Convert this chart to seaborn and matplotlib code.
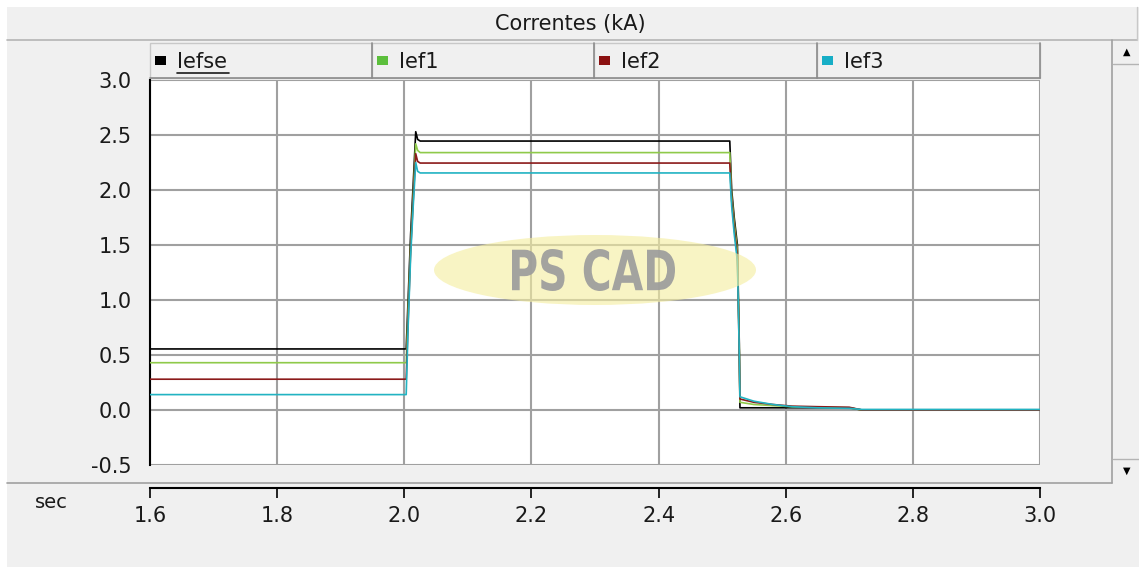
import matplotlib
matplotlib.use("Agg")
import matplotlib.pyplot as plt
import seaborn as sns
import pandas as pd
from matplotlib.patches import Ellipse, Rectangle, PathPatch
from matplotlib.lines import Line2D
from matplotlib.textpath import TextPath
from matplotlib.font_manager import FontProperties
from matplotlib.transforms import Affine2D

# ---------------- data ----------------
time_s = [1.600, 2.003, 2.006, 2.010, 2.014, 2.018, 2.021, 2.025, 2.512, 2.515,
          2.519, 2.524, 2.527, 2.528, 2.550, 2.580, 2.610, 2.650, 2.700, 2.720, 3.000]
iefse = [0.555, 0.555, 1.00, 1.60, 2.05, 2.53, 2.46, 2.445, 2.445, 2.00,
         1.75, 1.50, 0.60, 0.02, 0.02, 0.02, 0.02, 0.02, 0.02, 0.00, 0.00]
ief1 = [0.43, 0.43, 0.90, 1.50, 1.95, 2.42, 2.36, 2.34, 2.34, 1.95,
        1.70, 1.45, 0.55, 0.07, 0.05, 0.04, 0.03, 0.025, 0.02, 0.00, 0.00]
ief2 = [0.28, 0.28, 0.80, 1.45, 1.90, 2.33, 2.26, 2.245, 2.245, 1.90,
        1.65, 1.40, 0.50, 0.10, 0.07, 0.05, 0.035, 0.03, 0.025, 0.00, 0.00]
ief3 = [0.14, 0.14, 0.75, 1.40, 1.85, 2.25, 2.17, 2.155, 2.155, 1.85,
        1.60, 1.35, 0.50, 0.12, 0.08, 0.05, 0.03, 0.02, 0.015, 0.005, 0.005]

series_names = ["Iefse", "Ief1", "Ief2", "Ief3"]
series_values = [iefse, ief1, ief2, ief3]
line_colors = ["#000000", "#8fca4a", "#8b1a1a", "#22b3c2"]
legend_colors = ["#000000", "#5cbf3c", "#8b1111", "#17aec6"]
y_ticks = [-0.5, 0.0, 0.5, 1.0, 1.5, 2.0, 2.5, 3.0]
y_labels = ["-0.5", "0.0", "0.5", "1.0", "1.5", "2.0", "2.5", "3.0"]
x_ticks = [1.6, 1.8, 2.0, 2.2, 2.4, 2.6, 2.8, 3.0]
x_labels = ["1.6", "1.8", "2.0", "2.2", "2.4", "2.6", "2.8", "3.0"]
title_text = "Correntes (kA)"
x_unit = "sec"
watermark = "PS CAD"

# ---------------- layout ----------------
sns.set_theme(style="white")
plt.rcParams['font.family'] = ['DejaVu Sans']
FS = 15
W, H = 1139, 570
BG = "#f0f0f0"
fig = plt.figure(figsize=(W / 100, H / 100), dpi=100, facecolor=BG)


def box(px0, py0, px1, py1):
    return [px0 / W, 1 - py1 / H, (px1 - px0) / W, (py1 - py0) / H]


# background drawing layer in pixel coordinates
bg = fig.add_axes([0, 0, 1, 1], zorder=-5)
bg.set_xlim(0, W)
bg.set_ylim(H, 0)
bg.axis('off')
bg.add_patch(Rectangle((0, 0), W, 7, color="white", lw=0))
bg.add_patch(Rectangle((0, 0), 7, H, color="white", lw=0))
bg.add_patch(Rectangle((0, 567), W, 3, color="white", lw=0))
bg.add_line(Line2D([7, 1137], [40, 40], color="#b4b4b4", lw=1.2))
bg.add_line(Line2D([1137, 1137], [7, 40], color="#c8c8c8", lw=1.0))
bg.add_line(Line2D([7, 1112], [483, 483], color="#a0a0a0", lw=1.2))
bg.add_line(Line2D([1112, 1112], [40, 483], color="#a0a0a0", lw=1.2))
bg.add_line(Line2D([1113, 1139], [64, 64], color="#b4b4b4", lw=1.0))
bg.add_line(Line2D([1113, 1139], [459, 459], color="#b4b4b4", lw=1.0))
bg.text(1127, 52, "\u25B2", ha="center", va="center", fontsize=7, color="black")
bg.text(1127, 471, "\u25BC", ha="center", va="center", fontsize=7, color="black")
bg.text(570, 24, title_text, ha="center", va="center", fontsize=FS, color="#1a1a1a")
edges = [150, 372, 594, 817, 1040]
for i, name in enumerate(series_names):
    x0, x1 = edges[i], edges[i + 1]
    bg.add_patch(Rectangle((x0, 43), x1 - x0, 35, facecolor=BG,
                           edgecolor="#c8c8c8", lw=1.0))
    bg.add_line(Line2D([x0, x1], [78, 78], color="#8c8c8c", lw=1.2))
    bg.add_line(Line2D([x1, x1], [43, 78], color="#8c8c8c", lw=1.2))
    bg.add_patch(Rectangle((x0 + 5, 56), 11, 9, color=legend_colors[i], lw=0))
    bg.text(x0 + 27, 62, name, ha="left", va="center", fontsize=FS,
            color="#1a1a1a")
    if i == 0:
        bg.add_line(Line2D([x0 + 27, x0 + 79], [73, 73], color="#1a1a1a", lw=1.2))
bg.text(51, 503, x_unit, ha="center", va="center", fontsize=FS - 1, color="#1a1a1a")

# ---------------- main plot ----------------
ax = fig.add_axes(box(150, 80, 1040, 465))
ax.set_facecolor("white")

frames = []
for name, vals in zip(series_names, series_values):
    frames.append(pd.DataFrame({"t": time_s, "v": vals, "s": name}))
df = pd.concat(frames, ignore_index=True)

sns.lineplot(data=df, x="t", y="v", hue="s", hue_order=series_names,
             palette=dict(zip(series_names, line_colors)), estimator=None,
             sort=False, lw=1.2, legend=False, ax=ax, zorder=4)

ax.set_xlim(1.6, 3.0)
ax.set_ylim(-0.5, 3.0)
ax.set_xticks(x_ticks)
ax.set_yticks(y_ticks)
ax.set_yticklabels(y_labels, fontsize=FS, color="#1a1a1a")
ax.tick_params(axis="x", which="both", bottom=False, labelbottom=False)
ax.tick_params(axis="y", direction="out", length=8, width=1.2, color="black", pad=5)
ax.grid(True, color="#a0a0a0", lw=1.5, zorder=0)
ax.set_axisbelow(True)
ax.set_xlabel("")
ax.set_ylabel("")
for s in ["top", "right", "bottom"]:
    ax.spines[s].set_visible(False)
ax.spines["left"].set_color("black")
ax.spines["left"].set_linewidth(1.5)

# ---------------- watermark overlay (pixel coords) ----------------
ov = fig.add_axes([0, 0, 1, 1], zorder=5)
ov.set_xlim(0, W)
ov.set_ylim(H, 0)
ov.axis('off')
ov.add_patch(Ellipse((595, 270), 322, 70, facecolor="#f5eea0",
                     edgecolor="none", alpha=0.62))
tp = TextPath((0, 0), watermark, size=100,
              prop=FontProperties(family="DejaVu Sans", weight="bold"))
ext = tp.get_extents()
tw, th = 163.0, 42.0
tr = (Affine2D().translate(-ext.x0, -ext.y0)
      .scale(tw / ext.width, -th / ext.height)
      .translate(512, 291))
ov.add_patch(PathPatch(tr.transform_path(tp), facecolor="#9c9c9c",
                       edgecolor="none", alpha=0.92))

# ---------------- separate x axis ----------------
axx = fig.add_axes([150 / W, 1 - 488 / H, 890 / W, 0.0001])
axx.set_facecolor("none")
axx.set_xlim(1.6, 3.0)
axx.set_yticks([])
axx.set_xticks(x_ticks)
axx.set_xticklabels(x_labels, fontsize=FS, color="#1a1a1a")
for s in ["top", "right", "left"]:
    axx.spines[s].set_visible(False)
axx.spines["bottom"].set_color("black")
axx.spines["bottom"].set_linewidth(1.5)
axx.tick_params(axis="x", direction="out", length=7, width=1.2, color="black",
                pad=6, bottom=True)

fig.savefig("out.png", dpi=100, facecolor=BG)
